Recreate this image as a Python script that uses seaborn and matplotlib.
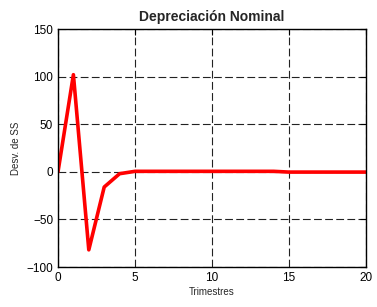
import numpy as np
import pandas as pd
import matplotlib
matplotlib.use("Agg")
import matplotlib.pyplot as plt
import seaborn as sns

trimestres = list(range(0, 21))
desviacion = [0, 102, -82, -16, -2, 0.5, 0.5, 0.5, 0.5, 0.5, 0.5, 0.5, 0.5, 0.5, 0.5,
              -0.3, -0.3, -0.3, -0.3, -0.3, -0.3]

df = pd.DataFrame({"Trimestres": trimestres, "Desv": desviacion})

sns.set_style("white")
plt.rcParams["font.family"] = ["Liberation Sans", "DejaVu Sans"]

fig = plt.figure(figsize=(3.77, 3.07), dpi=100)
ax = fig.add_axes([58 / 377, 1 - 267 / 307, (366 - 58) / 377, (267 - 29) / 307])

sns.lineplot(data=df, x="Trimestres", y="Desv", color="#ff0000", linewidth=2.6, ax=ax)

ax.set_xlim(0, 20)
ax.set_ylim(-100, 150)
ax.set_xticks([0, 5, 10, 15, 20])
ax.set_yticks([-100, -50, 0, 50, 100, 150])
ax.grid(True, color="#222222", linestyle=(0, (7, 3)), linewidth=0.8)
ax.tick_params(direction="in", top=True, right=True, length=4, width=0.8,
               labelsize=8.5, colors="black")
for s in ax.spines.values():
    s.set_color("black")
    s.set_linewidth(1.0)

ax.set_title("Depreciación Nominal", fontsize=10, fontweight="bold", pad=6)
ax.set_xlabel("Trimestres", fontsize=7, labelpad=2)
ax.set_ylabel("Desv. de SS", fontsize=7, labelpad=4)

fig.savefig("out.png", dpi=100)
